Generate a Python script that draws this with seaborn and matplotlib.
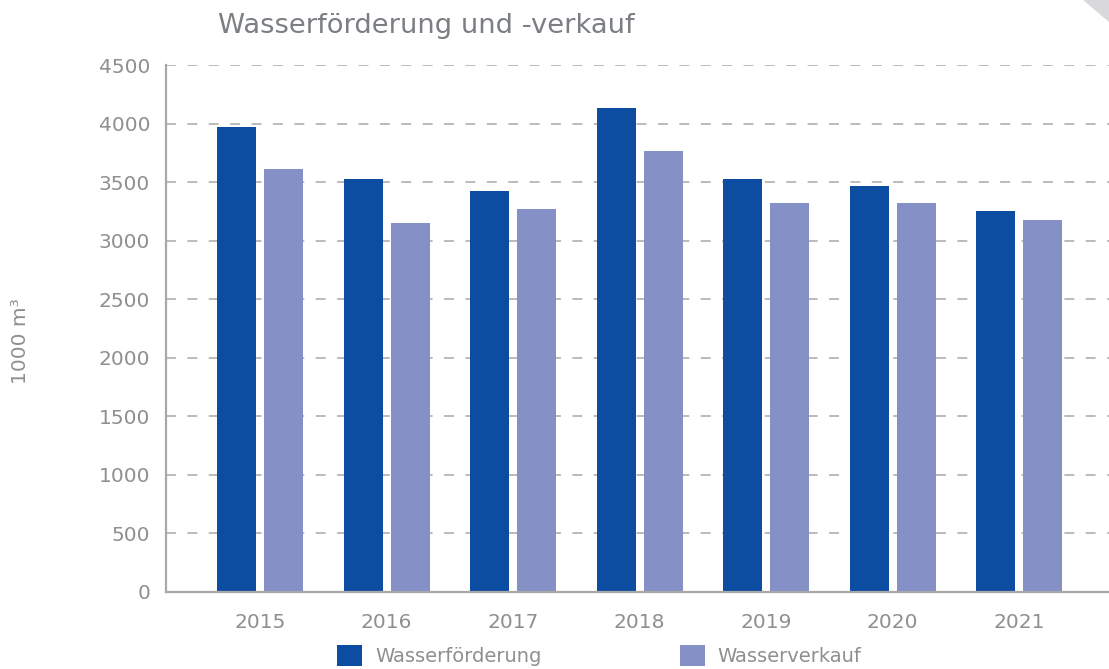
"""Wasserförderung und -verkauf - grouped bar chart"""

import pandas as pd
import matplotlib
matplotlib.use("Agg")
import matplotlib.pyplot as plt
from matplotlib.patches import Patch, Polygon
import seaborn as sns

years = ["2015", "2016", "2017", "2018", "2019", "2020", "2021"]
foerderung = [3975, 3530, 3425, 4135, 3530, 3470, 3255]
verkauf = [3615, 3155, 3270, 3770, 3325, 3325, 3180]
series_names = ["Wasserförderung", "Wasserverkauf"]
yticks = [0, 500, 1000, 1500, 2000, 2500, 3000, 3500, 4000, 4500]

dark_blue = "#0d4da1"
light_blue = "#8490c6"
text_grey = "#8f8f8f"
line_grey = "#a8a8a8"

df = pd.DataFrame({
    "Jahr": years * 2,
    "Wert": foerderung + verkauf,
    "Reihe": [series_names[0]] * len(years) + [series_names[1]] * len(years),
})

sns.set_style("white")
plt.rcParams["font.family"] = ["DejaVu Sans"]

fig = plt.figure(figsize=(11.09, 6.69), dpi=100)
ax = fig.add_axes([0.1497, 0.1151, 0.8503, 0.7873])

sns.barplot(data=df, x="Jahr", y="Wert", hue="Reihe", palette=[dark_blue, light_blue],
            width=0.743, gap=0.17, legend=False, ax=ax, saturation=1, linewidth=0)

ax.set_ylim(0, 4500)
ax.set_xlim(-0.743, 6.71)
ax.set_yticks(yticks)
ax.set_yticklabels([str(t) for t in yticks])
ax.tick_params(axis="both", length=0, labelsize=14.5, labelcolor=text_grey)
ax.tick_params(axis="y", pad=11.5)
ax.tick_params(axis="x", pad=15)
ax.set_xlabel("")
ax.set_ylabel("")

# dashed horizontal grid
for t in yticks[1:]:
    ax.axhline(t, color=line_grey, lw=1.1, ls=(0, (6.5, 7.5)), zorder=0)

for side in ["top", "right"]:
    ax.spines[side].set_visible(False)
for side in ["left", "bottom"]:
    ax.spines[side].set_color(line_grey)
    ax.spines[side].set_linewidth(1.6)

fig.text(0.1966, 1 - 33 / 669, "Wasserförderung und -verkauf", fontsize=19.7,
         color="#7b7e82", ha="left", va="baseline")
fig.text(20 / 1109, 1 - 341 / 669, "1000 m³", fontsize=14.5, color=text_grey,
         rotation=90, ha="center", va="center")

handles = [Patch(facecolor=dark_blue, edgecolor="none"),
           Patch(facecolor=light_blue, edgecolor="none")]
fig.legend(handles, series_names, loc="upper left", bbox_to_anchor=(337 / 1109, 1 - 645 / 669),
           ncol=2, frameon=False, fontsize=14, labelcolor=text_grey,
           handlelength=1.29, handleheight=1.29, handletextpad=0.67,
           columnspacing=7.1, borderpad=0, borderaxespad=0)

# page corner fold, top right
fig.patches.append(Polygon([[1083 / 1109, 1], [1, 1], [1, 1 - 22 / 669]], closed=True,
                           transform=fig.transFigure, facecolor="#d9d9dc", edgecolor="none"))

fig.savefig("out.png", dpi=100)
